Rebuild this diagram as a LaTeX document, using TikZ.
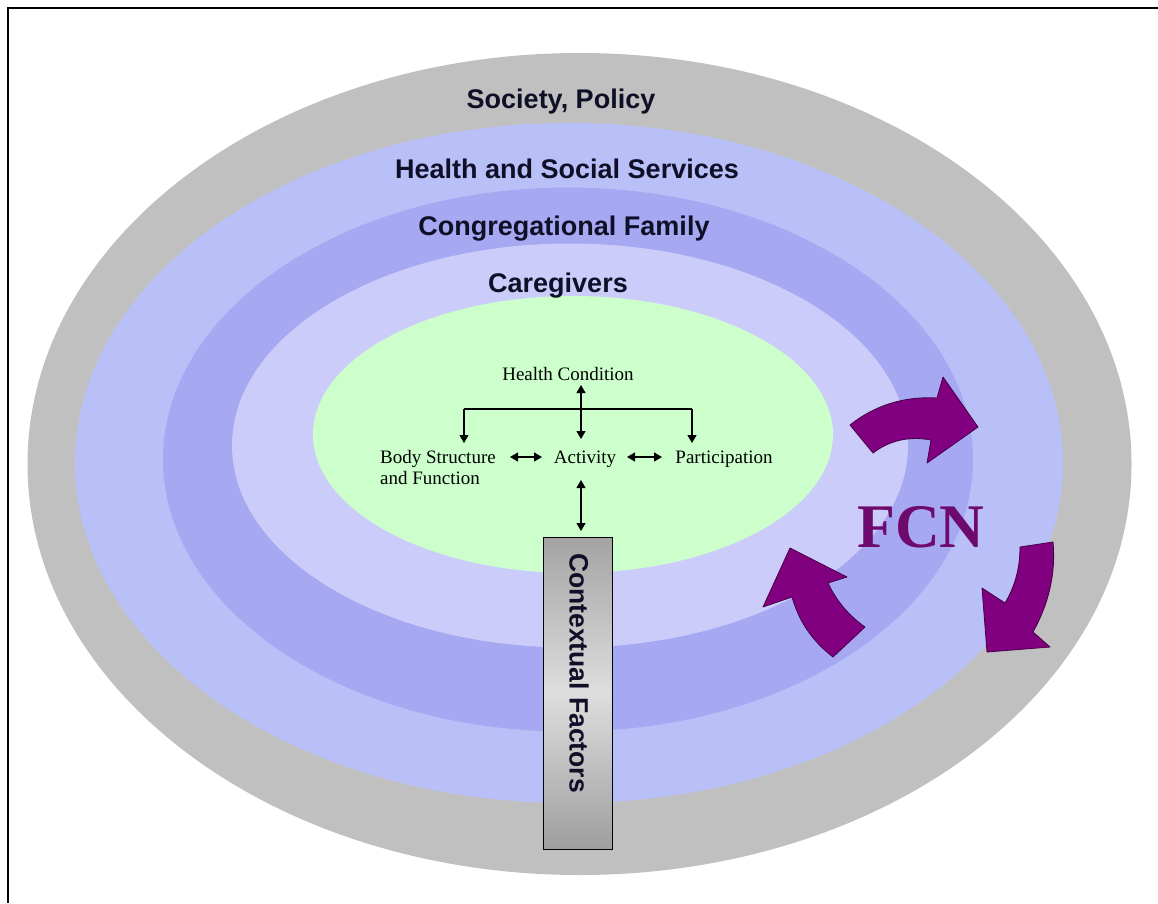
\documentclass[tikz,border=0pt]{standalone}
\usepackage{fontspec}
\setmainfont{Liberation Sans}
\newfontfamily\icffont{Liberation Serif}
\usetikzlibrary{arrows.meta}
\definecolor{laygray}{RGB}{192,192,192}
\definecolor{layhealth}{RGB}{184,192,247}
\definecolor{laycong}{RGB}{166,168,242}
\definecolor{laycare}{RGB}{204,204,250}
\definecolor{laygreen}{RGB}{204,255,204}
\definecolor{labelink}{RGB}{15,15,40}
\definecolor{fcnpurple}{RGB}{128,0,128}
\definecolor{fcnedge}{RGB}{70,0,70}
\definecolor{fcntext}{RGB}{110,10,110}
\begin{document}
\begin{tikzpicture}[x=1pt,y=-1pt,
  layerlabel/.style={font=\fontsize{27}{27}\selectfont\bfseries, text=labelink, anchor=base, inner sep=0pt},
  icf/.style={font=\icffont\fontsize{19}{21}\selectfont, inner sep=0pt},
  conn/.style={line width=1.2pt, black},
  onehead/.style={-{Triangle[length=8pt,width=9pt]}},
  dbl/.style={{Triangle[length=8pt,width=9pt]}-{Triangle[length=8pt,width=9pt]}},
  cyclearrow/.style={fill=fcnpurple, draw=fcnedge, line width=0.8pt, line join=round},
]
\useasboundingbox (0,0) rectangle (1158,903);
\fill[white] (0,0) rectangle (1158,903);
\draw[line width=2pt] (1158,8) -- (8,8) -- (8,903);

% layers
\fill[laygray]   (579.5,464) ellipse [x radius=552pt, y radius=411pt];
\fill[layhealth] (569,463)   ellipse [x radius=494pt, y radius=340pt];
\fill[laycong]   (568,459.5) ellipse [x radius=405pt, y radius=272pt];
\fill[laycare]   (570,445.5) ellipse [x radius=338pt, y radius=202pt];
\fill[laygreen]  (573,434.5) ellipse [x radius=260pt, y radius=138.5pt];

% layer labels
\node[layerlabel] (soc)  at (561,108) {Society, Policy};
\node[layerlabel] (hss)  at (567,178) {Health and Social Services};
\node[layerlabel] (cong) at (564,235) {Congregational Family};
\node[layerlabel] (care) at (558,292) {Caregivers};

% ICF model
\node[icf, anchor=base] (hc)   at (568,380) {Health Condition};
\node[icf, anchor=base] (act)  at (585,463) {Activity};
\node[icf, anchor=base] (part) at (724,463) {Participation};
\node[icf, align=left, anchor=north west] (body) at (380,450) {Body Structure\\and Function};

\coordinate (hcdown) at (581,385);
\coordinate (actup)  at (581,439);
\coordinate (tl) at (464,409);
\coordinate (tr) at (692,409);
\coordinate (bodytop) at (464,443);
\coordinate (parttop) at (692,443);
\coordinate (bodyright) at (510,457);
\coordinate (actleft) at (542,457);
\coordinate (actright) at (627,457);
\coordinate (partleft) at (662,457);
\coordinate (actdown) at (581,480);

\draw[conn,dbl] (hcdown) -- (actup);
\draw[conn] (tl) -- (tr);
\draw[conn,onehead] (tl) -- (bodytop);
\draw[conn,onehead] (tr) -- (parttop);
\draw[conn,dbl] (bodyright) -- (actleft);
\draw[conn,dbl] (actright) -- (partleft);

% contextual factors bar
\node[draw=black, line width=0.8pt, top color=black!36, bottom color=black!38, middle color=black!13,
      minimum width=69pt, minimum height=312pt, inner sep=0pt] (ctxbar) at (577.5,693) {};
\node[rotate=-90, font=\fontsize{26.5}{26.5}\selectfont\bfseries, text=labelink, inner sep=0pt] (ctxlabel) at (579,673) {Contextual Factors};
\coordinate (ctxtop) at (581,531);
\draw[conn,dbl] (actdown) -- (ctxtop);

% FCN cycle arrows
\filldraw[cyclearrow] (850,425) .. controls (875,405) and (905,396) .. (937,398) -- (943,377) -- (978,427) -- (927,463) -- (931,440) .. controls (910,436) and (890,440) .. (873,453) -- cycle;
\filldraw[cyclearrow] (1020,547) -- (1053,542) .. controls (1056,575) and (1048,605) .. (1033,632) -- (1050,647) -- (987,652) -- (982,588) -- (1005,603) .. controls (1014,588) and (1020,570) .. (1020,547) -- cycle;
\filldraw[cyclearrow] (833,657) .. controls (815,643) and (800,625) .. (792,597) -- (763,607) -- (790,548) -- (847,577) -- (828,583) .. controls (836,600) and (848,615) .. (865,627) -- cycle;

\node[font=\icffont\fontsize{62}{62}\selectfont\bfseries, text=fcntext, anchor=base, inner sep=0pt] (fcn) at (921,547) {FCN};
\end{tikzpicture}
\end{document}
